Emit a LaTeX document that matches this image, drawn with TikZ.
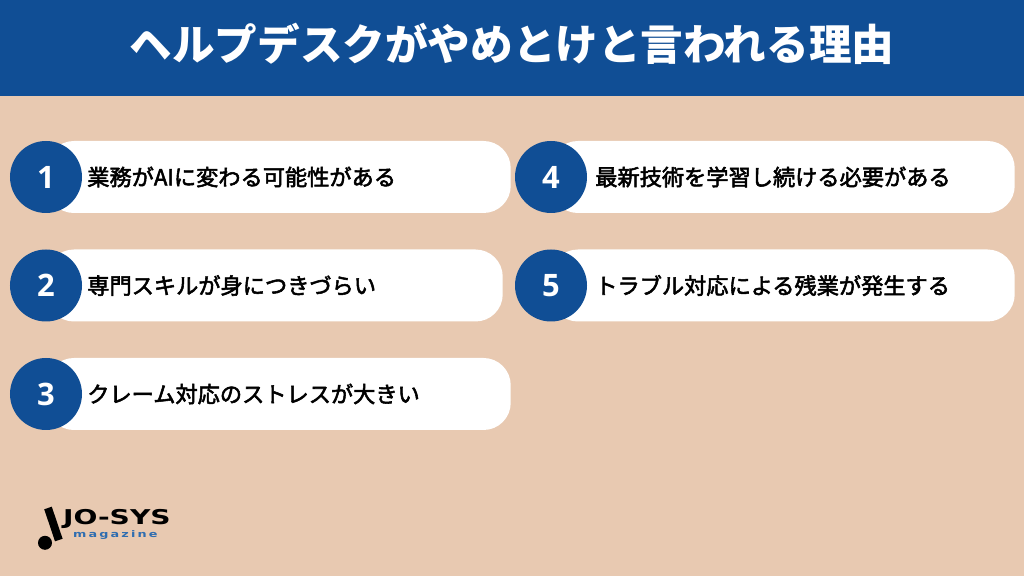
\documentclass[tikz,border=0pt]{standalone}
\usepackage{fontspec}
\setmainfont{Noto Sans CJK JP}
\newfontfamily\itemfont[FakeBold=2.4]{Noto Sans CJK JP}
\newfontfamily\numfont{Open Sans}
\newfontfamily\logofont{DejaVu Sans}
\definecolor{headblue}{HTML}{104E95}
\definecolor{sandbg}{HTML}{E8C9B1}
\definecolor{logoblue}{HTML}{2F6DB0}
\tikzset{
    itembar/.style={rectangle, fill=white, rounded corners=0.68cm, anchor=east,
    	minimum height=1.8cm},
    numdot/.style={circle, fill=headblue, text=white, minimum size=1.8cm, inner sep=0pt,
    	font=\numfont\bfseries\fontsize{22}{22}\selectfont},
    itemtext/.style={anchor=west, inner sep=0pt, text=black,
    	font=\itemfont\fontsize{15.8}{18}\selectfont}
}
\begin{document}
\begin{tikzpicture}
	\useasboundingbox (0cm, 0cm) rectangle (25.6cm, 14.4cm);
	\fill[sandbg] (0cm, 0cm) rectangle (25.6cm, 14.4cm);
	\node (head) [rectangle, fill=headblue, minimum width=25.6cm, minimum height=2.4cm, inner sep=0pt] at (12.8cm, 13.2cm) {};
	\node (title) [text=white, inner sep=0pt, font=\bfseries\fontsize{30.3}{36}\selectfont] at (12.8cm, 13.3cm) {ヘルプデスクがやめとけと言われる理由};
	% left column
	\node (bar1) [itembar, minimum width=11.6cm] at (12.775cm, 9.975cm) {};
	\node (bar2) [itembar, minimum width=11.4cm] at (12.575cm, 7.2625cm) {};
	\node (bar3) [itembar, minimum width=11.6cm] at (12.775cm, 4.55cm) {};
	\node (dot1) [numdot] at (1.15cm, 9.975cm) {1};
	\node (dot2) [numdot] at (1.15cm, 7.2625cm) {2};
	\node (dot3) [numdot] at (1.15cm, 4.55cm) {3};
	\node (text1) [itemtext] at (2.175cm, 9.975cm) {業務がAIに変わる可能性がある};
	\node (text2) [itemtext] at (2.175cm, 7.2625cm) {専門スキルが身につきづらい};
	\node (text3) [itemtext] at (2.175cm, 4.55cm) {クレーム対応のストレスが大きい};
	% right column
	\node (bar4) [itembar, minimum width=11.6cm] at (25.375cm, 9.975cm) {};
	\node (bar5) [itembar, minimum width=11.6cm] at (25.375cm, 7.2625cm) {};
	\node (dot4) [numdot] at (13.775cm, 9.975cm) {4};
	\node (dot5) [numdot] at (13.775cm, 7.2625cm) {5};
	\node (text4) [itemtext] at (14.875cm, 9.975cm) {最新技術を学習し続ける必要がある};
	\node (text5) [itemtext] at (14.875cm, 7.2625cm) {トラブル対応による残業が発生する};
	% logo
	\draw[black, line width=0.2cm] (1.2cm, 1.7cm) -- (1.47cm, 0.9cm);
	\fill[black] (1.125cm, 0.83cm) circle (0.175cm);
	\node (logo) [anchor=west, inner sep=0pt, text=black, xscale=1.38, font=\logofont\bfseries\fontsize{14.5}{15}\selectfont] at (1.57cm, 1.43cm) {JO-SYS};
	\node (mag) [anchor=west, inner sep=0pt, text=logoblue, font=\logofont\bfseries\fontsize{6.5}{7}\selectfont, xscale=1.4] at (1.82cm, 1.02cm) {m\,a\,g\,a\,z\,i\,n\,e};
\end{tikzpicture}
\end{document}
